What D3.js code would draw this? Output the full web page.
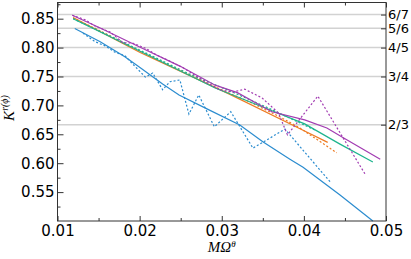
<!DOCTYPE html>
<html>
<head>
<meta charset="utf-8">
<script src="https://cdn.jsdelivr.net/npm/d3@7"></script>
<style>
  body { margin: 0; background: #fff; }
  svg { display: block; }
  .tick text { font-family: "DejaVu Sans", sans-serif; fill: #000; }
</style>
</head>
<body>
<svg id="chart"></svg>
<script>
// data (x = M Omega^theta, y = K)
const blueSolidX = [0.0121, 0.0152, 0.0182, 0.0200, 0.0228, 0.0248, 0.0282, 0.0322, 0.0350, 0.0383, 0.0399, 0.0444, 0.0484];
const blueSolidY = [0.833, 0.810, 0.784, 0.766, 0.737, 0.718, 0.694, 0.666, 0.637, 0.607, 0.593, 0.545, 0.500];

const blueDashX = [0.0131, 0.0146, 0.0158, 0.0170, 0.0182, 0.0194, 0.0207, 0.0216, 0.0228, 0.0237, 0.0249, 0.0260, 0.0272, 0.0291, 0.0311, 0.0338, 0.0377, 0.0433];
const blueDashY = [0.825, 0.810, 0.803, 0.792, 0.786, 0.768, 0.749, 0.756, 0.727, 0.741, 0.744, 0.685, 0.718, 0.663, 0.689, 0.626, 0.659, 0.566];

const orangeSolidX = [0.0119, 0.0200, 0.0310, 0.0399, 0.0429];
const orangeSolidY = [0.852, 0.792, 0.719, 0.657, 0.636];

const orangeDashX = [0.0119, 0.0152, 0.0188, 0.0225, 0.0261, 0.0298, 0.0334, 0.0371, 0.0395, 0.0417, 0.0440];
const orangeDashY = [0.851, 0.829, 0.803, 0.777, 0.753, 0.728, 0.706, 0.680, 0.661, 0.640, 0.618];

const greenSolidX = [0.0119, 0.0200, 0.0292, 0.0359, 0.0401, 0.0444, 0.0484];
const greenSolidY = [0.850, 0.794, 0.730, 0.692, 0.668, 0.633, 0.602];

const greenDashX = [0.0119, 0.0164, 0.0213, 0.0261, 0.0310, 0.0359, 0.0414];
const greenDashY = [0.850, 0.820, 0.787, 0.754, 0.725, 0.694, 0.657];

const purpleSolidX = [0.0118, 0.0152, 0.0200, 0.0249, 0.0292, 0.0319, 0.0361, 0.0401, 0.0428, 0.0448, 0.0493];
const purpleSolidY = [0.856, 0.834, 0.801, 0.768, 0.735, 0.722, 0.689, 0.675, 0.661, 0.644, 0.607];

const purpleDashX = [0.0118, 0.0134, 0.0146, 0.0164, 0.0180, 0.0191, 0.0207, 0.0221, 0.0239, 0.0253, 0.0282, 0.0298, 0.0313, 0.0328, 0.0349, 0.0369, 0.0380, 0.0417, 0.0475];
const purpleDashY = [0.856, 0.848, 0.837, 0.827, 0.808, 0.808, 0.799, 0.787, 0.775, 0.765, 0.739, 0.727, 0.723, 0.728, 0.713, 0.687, 0.649, 0.716, 0.580];

const xTicks = [0.01, 0.02, 0.03, 0.04, 0.05];
const xMinor = [0.015, 0.025, 0.035, 0.045];
const yTicks = [0.55, 0.60, 0.65, 0.70, 0.75, 0.80, 0.85];
const yMinor = [0.525, 0.575, 0.625, 0.675, 0.725, 0.775, 0.825, 0.875];
const fracValues = [6 / 7, 5 / 6, 4 / 5, 3 / 4, 2 / 3];
const fracLabels = ["6/7", "5/6", "4/5", "3/4", "2/3"];

const W = 411, H = 259;
const margin = { top: 2.5, right: 25, bottom: 38, left: 57.5 };
const width = W - margin.left - margin.right;
const height = H - margin.top - margin.bottom;

const svg = d3.select("#chart").attr("width", W).attr("height", H);
const g = svg.append("g").attr("transform", `translate(${margin.left},${margin.top})`);

const x = d3.scaleLinear().domain([0.01, 0.05]).range([0, width]);
const y = d3.scaleLinear().domain([0.5, 0.878]).range([height, 0]);

// grid at the fractions
g.selectAll(".grid")
  .data(fracValues)
  .enter()
  .append("line")
  .attr("x1", 0).attr("x2", width)
  .attr("y1", d => y(d)).attr("y2", d => y(d))
  .attr("stroke", "#d2d2d2")
  .attr("stroke-width", 1.5);

// series
const series = [
  { xs: blueSolidX, ys: blueSolidY, color: "#2b8ccf", dash: null },
  { xs: blueDashX, ys: blueDashY, color: "#2b8ccf", dash: "2,2" },
  { xs: orangeSolidX, ys: orangeSolidY, color: "#ee7b22", dash: null },
  { xs: orangeDashX, ys: orangeDashY, color: "#ee7b22", dash: "2,2" },
  { xs: greenSolidX, ys: greenSolidY, color: "#1db48e", dash: null },
  { xs: greenDashX, ys: greenDashY, color: "#1db48e", dash: "2,2" },
  { xs: purpleSolidX, ys: purpleSolidY, color: "#a23cb2", dash: null },
  { xs: purpleDashX, ys: purpleDashY, color: "#a23cb2", dash: "2,2" }
];

const line = d3.line().x(d => x(d[0])).y(d => y(d[1]));

series.forEach(s => {
  g.append("path")
    .datum(s.xs.map((v, i) => [v, s.ys[i]]))
    .attr("fill", "none")
    .attr("stroke", s.color)
    .attr("stroke-width", 1.2)
    .attr("stroke-dasharray", s.dash)
    .attr("d", line);
});

// axes, ticks pointing inward
g.append("g")
  .call(d3.axisLeft(y).tickValues(yTicks).tickFormat(d3.format(".2f")).tickSizeInner(-6).tickSizeOuter(0).tickPadding(3))
  .call(a => a.selectAll("text").style("font-size", "15px"));
g.append("g")
  .call(d3.axisLeft(y).tickValues(yMinor).tickFormat("").tickSizeInner(-3).tickSizeOuter(0));

g.append("g")
  .attr("transform", `translate(0,${height})`)
  .call(d3.axisBottom(x).tickValues(xTicks).tickFormat(d3.format(".2f")).tickSizeInner(-5).tickSizeOuter(0).tickPadding(4))
  .call(a => a.selectAll("text").style("font-size", "15px"));
g.append("g")
  .attr("transform", `translate(0,${height})`)
  .call(d3.axisBottom(x).tickValues(xMinor).tickFormat("").tickSizeInner(-3).tickSizeOuter(0));

g.append("g")
  .call(d3.axisTop(x).tickValues(xTicks).tickFormat("").tickSizeInner(-5).tickSizeOuter(0));
g.append("g")
  .call(d3.axisTop(x).tickValues(xMinor).tickFormat("").tickSizeInner(-3).tickSizeOuter(0));

g.append("g")
  .attr("transform", `translate(${width},0)`)
  .call(d3.axisRight(y).tickValues(fracValues).tickFormat((d, i) => fracLabels[i]).tickSizeInner(-5).tickSizeOuter(0).tickPadding(2))
  .call(a => a.selectAll("text").style("font-size", "13px"));

g.selectAll(".domain").attr("stroke", "none");
g.selectAll(".tick line").attr("stroke", "#333");

// frame
g.append("rect")
  .attr("width", width)
  .attr("height", height)
  .attr("fill", "none")
  .attr("stroke", "#333")
  .attr("stroke-width", 1);

// axis titles
const xTitle = g.append("text")
  .attr("x", width / 2)
  .attr("y", height + 31)
  .attr("text-anchor", "middle")
  .style("font-family", "'Liberation Serif', serif")
  .style("font-style", "italic")
  .style("font-size", "15px");
xTitle.append("tspan").text("MΩ");
xTitle.append("tspan").attr("dy", -5).style("font-size", "9px").text("θ");

const yTitle = svg.append("text")
  .attr("transform", `translate(14,108) rotate(-90)`)
  .attr("text-anchor", "middle")
  .style("font-family", "'Liberation Serif', serif")
  .style("font-style", "italic")
  .style("font-size", "15px");
yTitle.append("tspan").text("K");
yTitle.append("tspan").attr("dy", -6).style("font-size", "10px").text("r(ϕ)");
</script>
</body>
</html>
